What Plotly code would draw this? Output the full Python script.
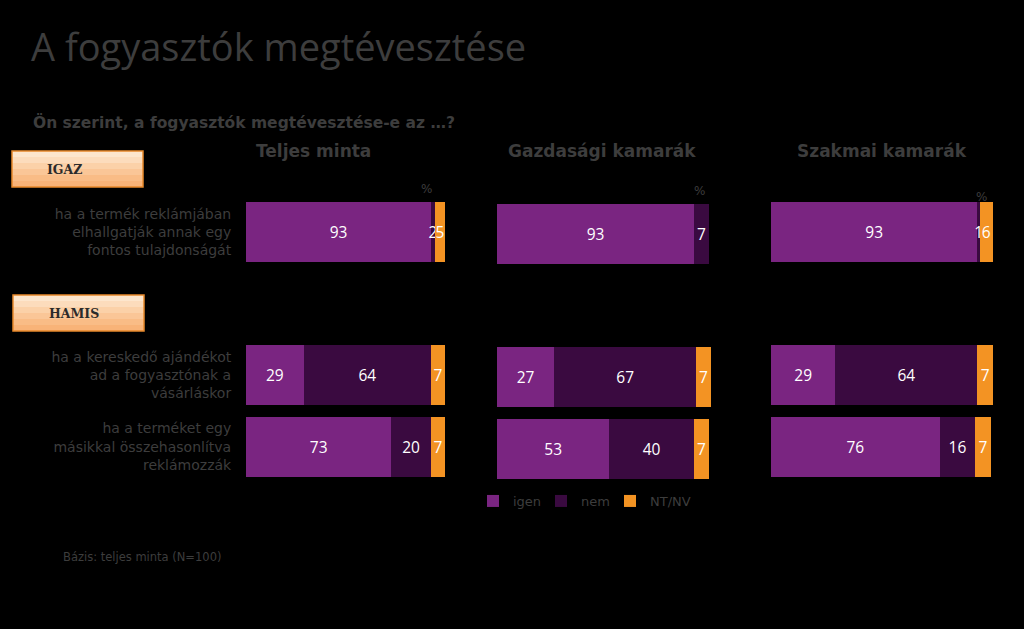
import plotly.graph_objects as go

W, H = 1024, 629

panels = ["Teljes minta", "Gazdasági kamarák", "Szakmai kamarák"]
items = [
    "ha a termék reklámjában<br>elhallgatják annak egy<br>fontos tulajdonságát",
    "ha a kereskedő ajándékot<br>ad a fogyasztónak a<br>vásárláskor",
    "ha a terméket egy<br>másikkal összehasonlítva<br>reklámozzák",
]
series = ["igen", "nem", "NT/NV"]

igen_teljes = [93, 29, 73]
nem_teljes = [2, 64, 20]
ntnv_teljes = [5, 7, 7]

igen_gazd = [93, 27, 53]
nem_gazd = [7, 67, 40]
ntnv_gazd = [0, 7, 7]

igen_szakm = [93, 29, 76]
nem_szakm = [1, 64, 16]
ntnv_szakm = [6, 7, 7]

panel_values = [
    [igen_teljes, nem_teljes, ntnv_teljes],
    [igen_gazd, nem_gazd, ntnv_gazd],
    [igen_szakm, nem_szakm, ntnv_szakm],
]

colors = ["#7a2581", "#3a0a40", "#f39323"]
GRAY = "#3d3d3d"
SPACER = " "

# category order: first item, spacer (for HAMIS box), then remaining two
cats = [items[0], SPACER, items[1], items[2]]


def px_x(p):
    return p / W


def px_y(p):
    return 1 - p / H


# pixel layout of panels
x_px = [(246, 445), (497, 711), (771, 993)]
y_px = [(196.5, 482.5), (198.5, 484.5), (196.5, 482.5)]
x_ranges = [[0, 100], [0, 101], [0, 100]]
legend_names = ["legend", "legend2", "legend3"]
legend_x = [473, 541, 610]

fig = go.Figure()

for pi, vals in enumerate(panel_values):
    axn = "" if pi == 0 else str(pi + 1)
    for si, sname in enumerate(series):
        v = vals[si]
        xs = [v[0], None, v[1], v[2]]
        txt = [("" if (x is None or x == 0) else str(x)) for x in xs]
        fig.add_trace(go.Bar(
            x=xs, y=cats, orientation="h",
            name=sname, legendgroup=sname, showlegend=(pi == 1),
            legend=legend_names[si],
            marker=dict(color=colors[si], line=dict(width=0)),
            text=txt, textposition="inside", insidetextanchor="middle",
            textangle=0, constraintext="none",
            textfont=dict(color="white", size=15.5, family="Open Sans"),
            hoverinfo="skip",
            xaxis="x" + axn, yaxis="y" + axn,
        ))
    xa = dict(domain=[px_x(x_px[pi][0]), px_x(x_px[pi][1])], range=x_ranges[pi],
              showgrid=False, zeroline=False, showticklabels=False, showline=False,
              fixedrange=True, anchor="y" + axn)
    ya = dict(domain=[px_y(y_px[pi][1]), px_y(y_px[pi][0])], type="category",
              categoryorder="array", categoryarray=cats, range=[3.5, -0.5],
              showgrid=False, zeroline=False, showline=False, fixedrange=True,
              anchor="x" + axn,
              showticklabels=(pi == 0),
              ticks="outside" if pi == 0 else "", ticklen=11, tickcolor="black",
              tickfont=dict(color=GRAY, size=14, family="DejaVu Sans"))
    fig.layout["xaxis" + axn] = xa
    fig.layout["yaxis" + axn] = ya

annotations = []
# Title
annotations.append(dict(text="A fogyasztók megtévesztése", x=px_x(29), y=px_y(46),
                        xref="paper", yref="paper", xanchor="left", yanchor="middle",
                        showarrow=False, font=dict(size=38, color=GRAY, family="Open Sans")))
# Subtitle
annotations.append(dict(text="<b>Ön szerint, a fogyasztók megtévesztése-e az …?</b>", x=px_x(31), y=px_y(123),
                        xref="paper", yref="paper", xanchor="left", yanchor="middle",
                        showarrow=False, font=dict(size=15.5, color=GRAY, family="DejaVu Sans")))
# panel titles
for cx, t in zip([313, 602, 882], panels):
    annotations.append(dict(text="<b>" + t + "</b>", x=px_x(cx), y=px_y(151),
                            xref="paper", yref="paper", xanchor="center", yanchor="middle",
                            showarrow=False, font=dict(size=17, color=GRAY, family="DejaVu Sans")))
# percent signs
for (px_, py_) in [(426, 189), (699, 191), (981, 197)]:
    annotations.append(dict(text="%", x=px_x(px_), y=px_y(py_), xref="paper", yref="paper",
                            xanchor="center", yanchor="middle", showarrow=False,
                            font=dict(size=12, color=GRAY, family="DejaVu Sans")))
# base note
annotations.append(dict(text="Bázis: teljes minta (N=100)", x=px_x(61), y=px_y(557),
                        xref="paper", yref="paper", xanchor="left", yanchor="middle",
                        showarrow=False, font=dict(size=11.5, color=GRAY, family="DejaVu Sans")))

# IGAZ / HAMIS boxes with a vertical gradient
shapes = []
box_defs = [("IGAZ", 12, 151, 143, 187, 45), ("HAMIS", 13, 295, 144, 331, 47)]
grad = ["#fde6cd", "#fcdcbc", "#fbd1a8", "#fac697", "#f9bc86", "#f8b378"]
for label, x0, y0, x1, y1, tx in box_defs:
    n = len(grad)
    hgt = (y1 - y0) / n
    for gi, gc in enumerate(grad):
        shapes.append(dict(type="rect", xref="paper", yref="paper",
                           x0=px_x(x0), x1=px_x(x1),
                           y0=px_y(y0 + (gi + 1) * hgt), y1=px_y(y0 + gi * hgt),
                           fillcolor=gc, line=dict(width=0), layer="below"))
    shapes.append(dict(type="rect", xref="paper", yref="paper",
                       x0=px_x(x0), x1=px_x(x1), y0=px_y(y1), y1=px_y(y0),
                       fillcolor="rgba(0,0,0,0)", line=dict(color="#e8892b", width=1.5)))
    annotations.append(dict(text="<b>" + label + "</b>", x=px_x(tx), y=px_y((y0 + y1) / 2),
                            xref="paper", yref="paper", xanchor="left", yanchor="middle",
                            showarrow=False, font=dict(size=12.5, color="#2b2b2b", family="DejaVu Serif")))

legend_common = dict(orientation="h", y=px_y(501), xanchor="left", yanchor="middle",
                     bgcolor="rgba(0,0,0,0)", font=dict(size=13, color=GRAY, family="DejaVu Sans"),
                     itemwidth=30)

fig.update_layout(
    width=W, height=H,
    margin=dict(l=0, r=0, t=0, b=0),
    paper_bgcolor="black", plot_bgcolor="black",
    barmode="stack", bargap=0.16,
    showlegend=True,
    legend=dict(x=px_x(legend_x[0]), **legend_common),
    legend2=dict(x=px_x(legend_x[1]), **legend_common),
    legend3=dict(x=px_x(legend_x[2]), **legend_common),
    annotations=annotations,
    shapes=shapes,
)

fig.write_html("out.html", config={"displayModeBar": False},
               post_script="document.body.style.margin='0';document.body.style.overflow='hidden';")
